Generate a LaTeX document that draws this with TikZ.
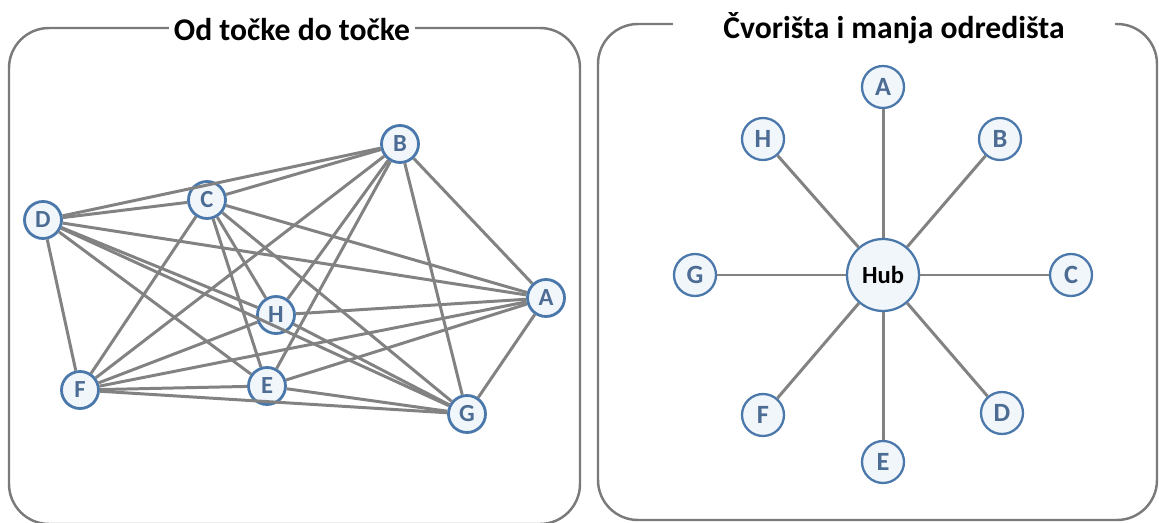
\documentclass[tikz,border=0pt]{standalone}
\usepackage{fontspec}
\setmainfont{Carlito}
\definecolor{nodeblue}{HTML}{4A78AB}
\definecolor{letterblue}{HTML}{4C6C93}
\definecolor{nodefill}{HTML}{F1F6FB}
\definecolor{linegray}{HTML}{828282}
\definecolor{boxgray}{HTML}{7A7A7A}
\begin{document}
\begin{tikzpicture}[x=0.02cm, y=-0.02cm,
		n/.style={circle, draw=nodeblue, fill=nodefill, line width=1.6pt, minimum size=0.74cm, inner sep=0pt,
			text=letterblue, font=\fontsize{14}{14}\selectfont\bfseries},
		m/.style={n, line width=1.3pt, minimum size=0.84cm, font=\fontsize{15}{15}\selectfont\bfseries},
		hub/.style={m, minimum size=1.44cm, text=black, font=\fontsize{14}{14}\selectfont\bfseries},
		panel/.style={draw=boxgray, line width=1.4pt, rounded corners=0.8cm},
		title/.style={fill=white, inner ysep=2pt, font=\fontsize{18}{20}\selectfont\bfseries},
		every edge/.style={draw=linegray, line width=1.7pt}]
		\useasboundingbox (0,0) rectangle (1159,523);

		% point to point
		\draw[panel] (9,28) rectangle (580,524);
		\node[title, inner xsep=3pt] (t1) at (292,30) {Od točke do točke};

		\node[n] (a) at (546,298) {A};
		\node[n] (b) at (400,144) {B};
		\node[n] (c) at (207,200) {C};
		\node[n] (d) at (43,220) {D};
		\node[n] (e) at (267,386) {E};
		\node[n] (f) at (80,390) {F};
		\node[n] (g) at (467,414) {G};
		\node[n] (h) at (276,315) {H};

		\draw (a) edge (b) (a) edge (c) (a) edge (d) (a) edge (e) (a) edge (f) (a) edge (g) (a) edge (h);
		\draw (b) edge (c) (b) edge (d) (b) edge (e) (b) edge (f) (b) edge (g) (b) edge (h);
		\draw (c) edge (d) (c) edge (e) (c) edge (f) (c) edge (g) (c) edge (h);
		\draw (d) edge (e) (d) edge (f) (d) edge (g) (d) edge (h);
		\draw (e) edge (f) (e) edge (g);
		\draw (f) edge (g) (f) edge (h);
		\draw (g) edge (h);

		% hub and spokes
		\draw[panel] (598,24) rectangle (1157,520);
		\node[title, inner xsep=1cm] (t2) at (894,28) {Čvorišta i manja odredišta};

		\node[hub] (hub) at (883,275) {Hub};
		\node[m] (ra) at (883,87) {A};
		\node[m] (rb) at (1000,139) {B};
		\node[m] (rc) at (1071,275) {C};
		\node[m] (rd) at (1002,413) {D};
		\node[m] (re) at (883,462) {E};
		\node[m] (rf) at (763,415) {F};
		\node[m] (rg) at (695,275) {G};
		\node[m] (rh) at (763,139) {H};

		\draw (hub) edge (ra) (hub) edge (rb) (hub) edge (rc) (hub) edge (rd);
		\draw (hub) edge (re) (hub) edge (rf) (hub) edge (rg) (hub) edge (rh);
	\end{tikzpicture}
\end{document}
